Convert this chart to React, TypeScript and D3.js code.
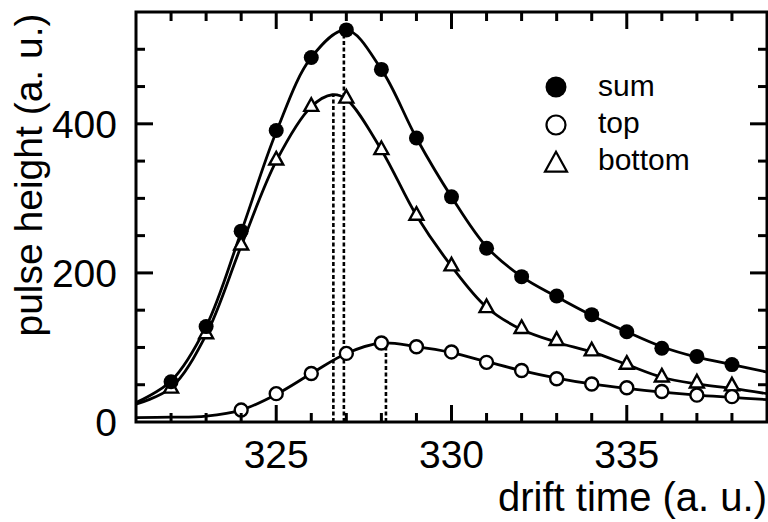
import React from "react";
import * as d3 from "d3";

// measured data points
const driftTimes = [322, 323, 324, 325, 326, 327, 328, 329, 330, 331, 332, 333, 334, 335, 336, 337, 338];
const sumValues = [54, 128, 256, 391, 489, 526, 473, 381, 302, 233, 195, 169, 144, 121, 99, 88, 77];
const bottomValues = [45, 118, 237, 351, 423, 434, 365, 277, 209, 153, 125, 109, 95, 77, 60, 52, 48];
const topTimes = [324, 325, 326, 327, 328, 329, 330, 331, 332, 333, 334, 335, 336, 337, 338];
const topValues = [16, 38, 65, 92, 106, 101, 94, 80, 69, 58, 51, 46, 41, 36, 34];

// fitted curves
const fitTimes = [321, 322, 323, 324, 325, 326, 327, 328, 329, 330, 331, 332, 333, 334, 335, 336, 337, 338, 339];
const sumFit = [26, 55, 128, 255, 389, 489, 526, 473, 381, 302, 235, 195, 168, 143, 121, 101, 87, 77, 67];
const bottomFitTimes = [321, 322, 323, 324, 325, 326, 326.6, 327, 328, 329, 330, 331, 332, 333, 334, 335, 336, 337, 338, 339];
const bottomFit = [24, 46, 117, 236, 350, 423, 439, 433, 365, 277, 209, 154, 124, 107, 94, 77, 60, 51, 45, 38];
const topFit = [6, 6.5, 8, 16, 37, 65, 92, 106, 101, 93, 81, 69, 59, 51, 45, 40, 36, 33, 30];

// peak markers (dashed)
const peakTimes = [326.93, 326.63, 328.13];
const peakValues = [527, 438, 106];

const xTicksMajor = [325, 330, 335];
const yTicksMajor = [0, 200, 400];

const legendLabels = ["sum", "top", "bottom"];

const W = 768;
const H = 522;
const FONT = "'Liberation Sans', Arial, Helvetica, sans-serif";

function tri(cx: number, cy: number, w: number) {
  const h = w * 0.9;
  return `M${cx},${cy - (2 * h) / 3}L${cx + w / 2},${cy + h / 3}L${cx - w / 2},${cy + h / 3}Z`;
}

export default function App() {
  const x = d3.scaleLinear().domain([321, 339]).range([136, 767]);
  const y = d3.scaleLinear().domain([0, 550]).range([422, 12]);
  const [x0, x1] = x.range();
  const [yb, yt] = y.range();

  const line = d3
    .line<[number, number]>()
    .x((d) => x(d[0]))
    .y((d) => y(d[1]))
    .curve(d3.curveCatmullRom.alpha(0.5));

  const sumPath = line(fitTimes.map((t, i) => [t, sumFit[i]]));
  const bottomPath = line(bottomFitTimes.map((t, i) => [t, bottomFit[i]]));
  const topPath = line(fitTimes.map((t, i) => [t, topFit[i]]));

  const xMinor = d3.range(322, 339, 1);
  const yMinor = d3.range(50, 550, 50);

  const majorLen = 17;
  const minorLen = 9;

  return (
    <svg
      width={W}
      height={H}
      style={{ position: "absolute", left: 0, top: 0, background: "#fff" }}
      fontFamily={FONT}
    >
      <rect x={0} y={0} width={W} height={H} fill="#fff" />
      {/* dashed peak lines */}
      {peakTimes.map((t, i) => (
        <line
          key={"pk" + i}
          x1={x(t)}
          x2={x(t)}
          y1={y(0)}
          y2={y(peakValues[i])}
          stroke="#000"
          strokeWidth={2.6}
          strokeDasharray="4,2.5"
        />
      ))}
      {/* fits */}
      {[sumPath, bottomPath, topPath].map((p, i) => (
        <path key={"f" + i} d={p || ""} fill="none" stroke="#000" strokeWidth={2.8} />
      ))}
      {/* markers */}
      {driftTimes.map((t, i) => (
        <path key={"b" + i} d={tri(x(t), y(bottomValues[i]), 14)} fill="#fff" stroke="#000" strokeWidth={2.4} />
      ))}
      {topTimes.map((t, i) => (
        <circle key={"t" + i} cx={x(t)} cy={y(topValues[i])} r={6.5} fill="#fff" stroke="#000" strokeWidth={2.4} />
      ))}
      {driftTimes.map((t, i) => (
        <circle key={"s" + i} cx={x(t)} cy={y(sumValues[i])} r={7.5} fill="#000" />
      ))}

      {/* ticks */}
      {xMinor.map((t) => {
        const len = xTicksMajor.includes(t) ? majorLen : minorLen;
        return (
          <g key={"xt" + t}>
            <line x1={x(t)} x2={x(t)} y1={yb} y2={yb - len} stroke="#000" strokeWidth={3} />
            <line x1={x(t)} x2={x(t)} y1={yt} y2={yt + len} stroke="#000" strokeWidth={3} />
          </g>
        );
      })}
      {yMinor.map((v) => {
        const len = yTicksMajor.includes(v) ? majorLen : minorLen;
        return (
          <g key={"yt" + v}>
            <line x1={x0} x2={x0 + len} y1={y(v)} y2={y(v)} stroke="#000" strokeWidth={3} />
            <line x1={x1} x2={x1 - len} y1={y(v)} y2={y(v)} stroke="#000" strokeWidth={3} />
          </g>
        );
      })}
      <rect x={x0} y={yt} width={x1 - x0} height={yb - yt} fill="none" stroke="#000" strokeWidth={3} />

      {/* tick labels */}
      {xTicksMajor.map((t) => (
        <text key={"xl" + t} x={x(t)} y={468} textAnchor="middle" fontSize={39}>
          {t}
        </text>
      ))}
      {yTicksMajor.map((v) => (
        <text key={"yl" + v} x={117} y={y(v) + 14} textAnchor="end" fontSize={39}>
          {v}
        </text>
      ))}

      {/* axis titles */}
      <text x={767} y={511} textAnchor="end" fontSize={40}>
        drift time (a. u.)
      </text>
      <text transform={`translate(42,175) rotate(-90)`} textAnchor="middle" fontSize={39}>
        pulse height (a. u.)
      </text>

      {/* legend */}
      <circle cx={556} cy={87} r={10.5} fill="#000" />
      <circle cx={556} cy={125} r={9.5} fill="#fff" stroke="#000" strokeWidth={2.2} />
      <path d={tri(556, 165, 22)} fill="#fff" stroke="#000" strokeWidth={2.2} />
      {legendLabels.map((l, i) => (
        <text key={l} x={598} y={96 + i * 37} fontSize={30}>
          {l}
        </text>
      ))}
    </svg>
  );
}
